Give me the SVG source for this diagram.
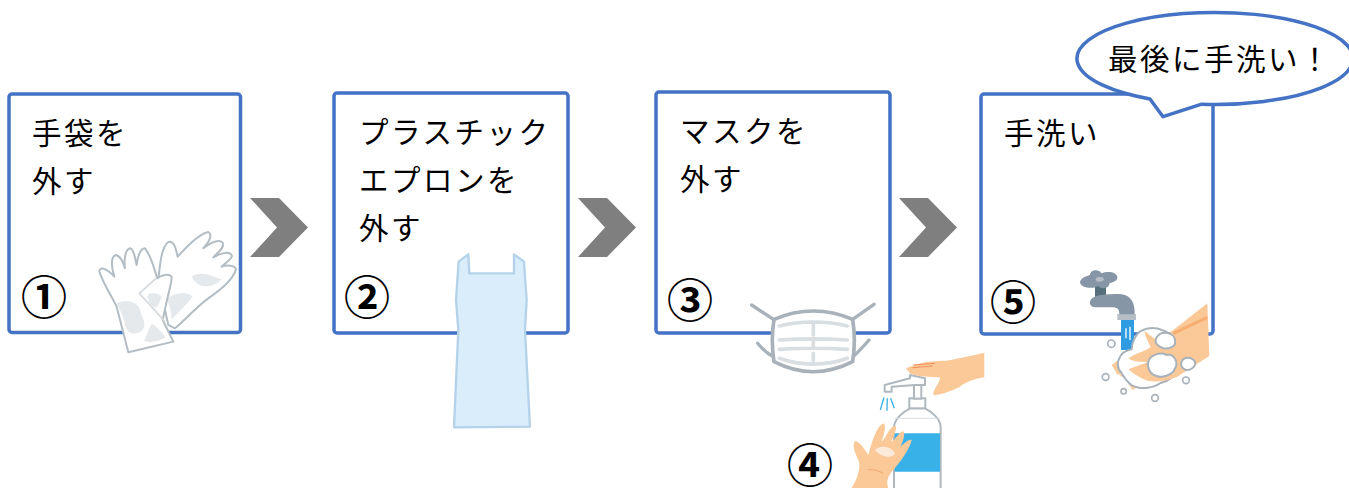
<svg xmlns="http://www.w3.org/2000/svg" width="1349" height="488" viewBox="0 0 1349 488">
<style>
.box{fill:#fff;stroke:#4472c4;stroke-width:3.5}
.chev{fill:#7f7f7f}
.t{font-family:"Noto Sans CJK JP","Noto Sans",sans-serif;font-size:29.5px;font-weight:400;letter-spacing:2.5px;fill:#000}
.n{font-family:"Noto Sans CJK JP",sans-serif;font-size:46px;font-weight:700;fill:#000;text-anchor:middle}
.gl{fill:#fff;stroke:#b4bdc4;stroke-width:6;stroke-linejoin:round}
.gb{fill:#e6e9eb}
.ms{fill:none;stroke:#a9b2ba;stroke-width:10;stroke-linecap:round;stroke-linejoin:round}
.mi{fill:none;stroke:#d9dee2;stroke-width:11;stroke-linecap:round}
.sk{fill:#fbc998}
.bb{fill:#fff;stroke:#a9b2ba;stroke-width:6}
.dr{fill:none;stroke:#a9b2ba;stroke-width:5}
</style>

<g id="step1"><rect class="box" x="9" y="94" width="231.500" height="238.500" rx="3"/>
<text class="t" x="32" y="144">手袋を</text><text class="t" x="32" y="192">外す</text><text class="n" x="44" y="314">①</text></g>
<g id="step2"><rect class="box" x="334" y="93" width="234" height="240" rx="3"/>
<text class="t" x="359" y="143">プラスチック</text><text class="t" x="359" y="191">エプロンを</text><text class="t" x="359" y="239">外す</text><text class="n" x="367" y="314">②</text></g>
<g id="step3"><rect class="box" x="656" y="92" width="234" height="241" rx="3"/>
<text class="t" x="680" y="142">マスクを</text><text class="t" x="680" y="190">外す</text><text class="n" x="690" y="317">③</text></g>
<g id="step5"><rect class="box" x="981" y="94" width="232" height="240" rx="3"/>
<text class="t" x="1004" y="144">手洗い</text><text class="n" x="1013" y="319">⑤</text></g>
<g id="step4"><text class="n" x="810" y="482">④</text></g>

<g id="connectors">
<polygon class="chev" points="250,198 279,198 308,227.500 279,257 250,257 277,227.500"/>
<polygon class="chev" points="578,198 607,198 636,227.500 607,257 578,257 605,227.500"/>
<polygon class="chev" points="899,198 928,198 957,227.500 928,257 899,257 926,227.500"/>
</g>

<!-- gloves -->
<g id="gloves" transform="translate(0,80) scale(.3333)">
<path class="gl" d="M475 600C480 550 485 500 505 486C525 482 528 510 533 530C560 500 600 460 625 456C640 465 625 490 610 505C630 490 655 475 668 488C675 505 650 520 640 532C660 520 690 510 696 528C690 545 672 550 665 560C680 555 705 555 708 568C700 600 660 630 625 655C590 680 555 720 525 745L505 735Z"/>
<path class="gb" d="M575 590C600 570 640 590 665 598C640 625 595 630 575 590ZM500 655C530 635 565 635 578 650C555 680 530 700 515 720C515 690 505 670 500 655Z"/>
<path class="gl" d="M385 817L350 680C330 640 310 610 298 575C300 555 325 570 343 590C335 565 330 530 348 525C365 530 370 550 375 565C372 540 375 505 392 505C405 515 405 540 410 555C412 535 420 505 435 505C455 530 460 560 472 595C485 585 505 580 515 590C515 610 505 640 500 665L488 720L520 785Z"/>
<path fill="none" stroke="#d5dade" stroke-width="5" d="M468 595L418 640L495 725"/>
<path class="gb" d="M350 670C375 655 415 665 420 690C425 710 440 730 430 748C415 765 385 770 375 735C370 710 360 690 350 670ZM442 650C445 632 475 640 485 650C480 665 472 688 462 682C450 675 445 660 442 650ZM432 782C440 770 448 735 458 732C470 740 490 760 497 772C475 785 450 790 432 782Z"/>
</g>

<!-- apron -->
<g id="apron" transform="translate(330,220) scale(.3333)">
<path d="M386 125L415 103L418 160L552 160L552 103L582 125L590 240L585 330L600 620L372 622L385 330L378 240Z" fill="#d9edfb" stroke="#b4d2ea" stroke-width="7" stroke-linejoin="round"/>
</g>

<!-- mask -->
<g id="mask" transform="translate(740,290) scale(.3333)">
<path class="ms" d="M35 45L100 88M402 43L338 88M53 160C65 175 80 190 100 200M387 150C370 170 355 185 340 200"/>
<path d="M102 88C180 55 260 55 338 88C345 130 345 170 338 215C260 255 180 255 102 215C95 170 95 130 102 88Z" fill="#fff" stroke="#a9b2ba" stroke-width="11" stroke-linejoin="round"/>
<path class="mi" d="M118 108C180 92 260 92 322 108M118 150C180 146 260 146 322 150M118 178C180 174 260 174 322 178M118 205C180 228 260 228 322 205M220 100V135M220 155V172M220 190V212"/>
</g>

<!-- soap pump and hands -->
<g id="pump" transform="translate(740,290) scale(.3333)">
<path d="M462 594V410C465 385 490 365 510 355H555C575 365 600 385 602 410V594" fill="#fff" stroke="#b0b8bf" stroke-width="6"/>
<path d="M464 430H600V545H464Z" fill="#38b1e8"/>
<path d="M464 385H600" stroke="#d9dee2" stroke-width="3"/>
<rect x="508" y="325" width="48" height="30" fill="#fff" stroke="#b0b8bf" stroke-width="6"/>
<rect x="522" y="282" width="22" height="44" fill="#fff" stroke="#b0b8bf" stroke-width="6"/>
<path d="M434 305V285L510 265V255L555 265V285H525L455 290V305Z" fill="#fff" stroke="#b0b8bf" stroke-width="6" stroke-linejoin="round"/>
<path d="M432 322L421 360M442 325L441 362M452 325L463 355" stroke="#38b1e8" stroke-width="4" fill="none"/>
<path class="sk" d="M498 235C540 215 580 212 620 212C660 205 700 195 733 188V262C700 268 680 275 660 290C630 305 600 315 580 315C580 295 600 280 600 262C570 262 530 260 510 250Z"/>
<path d="M520 225L585 220M518 233L578 228" stroke="#ee8f5c" stroke-width="3" fill="none"/>
<path class="sk" d="M335 594C350 570 365 530 355 510C345 490 335 465 345 453C360 455 375 480 385 495C395 460 410 405 432 400C440 410 430 440 425 455C440 440 450 405 468 408C470 425 455 450 455 455C470 445 480 420 492 425C495 440 485 465 480 470C495 460 505 445 515 450C510 475 480 520 455 545C440 565 440 580 445 594Z"/>
<path d="M405 480C420 462 455 470 465 490C460 505 425 505 405 480Z" fill="#fde9da"/>
<path d="M385 540C400 535 420 545 430 550" stroke="#ec9d62" stroke-width="2.500" fill="none"/>
</g>

<!-- tap and lathered hands -->
<g id="tap" transform="translate(1060,250) scale(.3333)">
<path d="M183 205H222V300H183Z" fill="#2f9be0"/>
<path d="M198 235V265M210 230V270" stroke="#cfeaf8" stroke-width="5"/>
<path d="M172 192H228V210H172Z" fill="#b6bfc7"/>
<path d="M105 105H138V150H105Z" fill="#55707a"/>
<path d="M90 155C95 135 130 132 180 132C215 135 225 160 224 193H178C178 175 170 170 150 172H110C95 172 88 165 90 155Z" fill="#8796a6"/>
<path d="M60 95C65 80 85 78 90 75C90 60 115 55 125 70C140 62 175 65 172 85C170 95 150 100 148 100C150 115 125 120 115 108C100 118 60 115 60 95Z" fill="#8796a6"/>
<ellipse cx="119" cy="88" rx="12" ry="7" fill="#b6bfc7"/>
<path class="sk" d="M155 345L195 315V365L170 375L205 370L240 405L218 420L195 385L172 372Z"/>
<path d="M178 325C185 305 205 300 215 298C215 275 230 245 250 240C265 232 290 232 305 240C335 245 355 290 350 350C350 380 320 395 300 400C280 415 245 418 225 410C205 405 195 385 185 370C170 355 172 335 178 325Z" fill="#fff" stroke="#a9b2ba" stroke-width="6" stroke-linejoin="round"/>
<path class="sk" d="M253 243L292 272L340 240L442 160L448 318L352 380C320 392 290 398 262 392C240 385 222 372 205 358L266 335C242 338 218 335 205 325C225 312 255 303 272 292C265 275 255 260 253 243Z"/>
<path d="M340 250L442 202" stroke="#f8ad72" stroke-width="9" fill="none"/>
<path class="bb" d="M290 262C305 238 345 248 345 272C350 290 325 298 310 295C295 290 280 280 290 262Z"/>
<path class="bb" d="M265 335C270 315 300 305 320 315C345 310 355 340 345 355C340 375 305 385 290 378C270 375 260 350 265 335Z"/>
<path class="bb" d="M365 335C370 320 395 318 405 335C410 350 390 362 378 360C365 355 360 345 365 335Z"/>
<circle class="dr" cx="154" cy="281" r="11"/><circle class="dr" cx="137" cy="381" r="10"/><circle class="dr" cx="191" cy="424" r="8"/><circle class="dr" cx="285" cy="444" r="10"/><circle class="dr" cx="378" cy="391" r="10"/>
</g>

<g id="callout">
<path d="M1201.700 104.200A138 46 0 1 0 1150 99L1163 116.700Z" fill="#fff" stroke="#4472c4" stroke-width="3.500" stroke-linejoin="round"/>
<text class="t" x="1108" y="70" style="letter-spacing:2.500px">最後に手洗い！</text>
</g>
</svg>
